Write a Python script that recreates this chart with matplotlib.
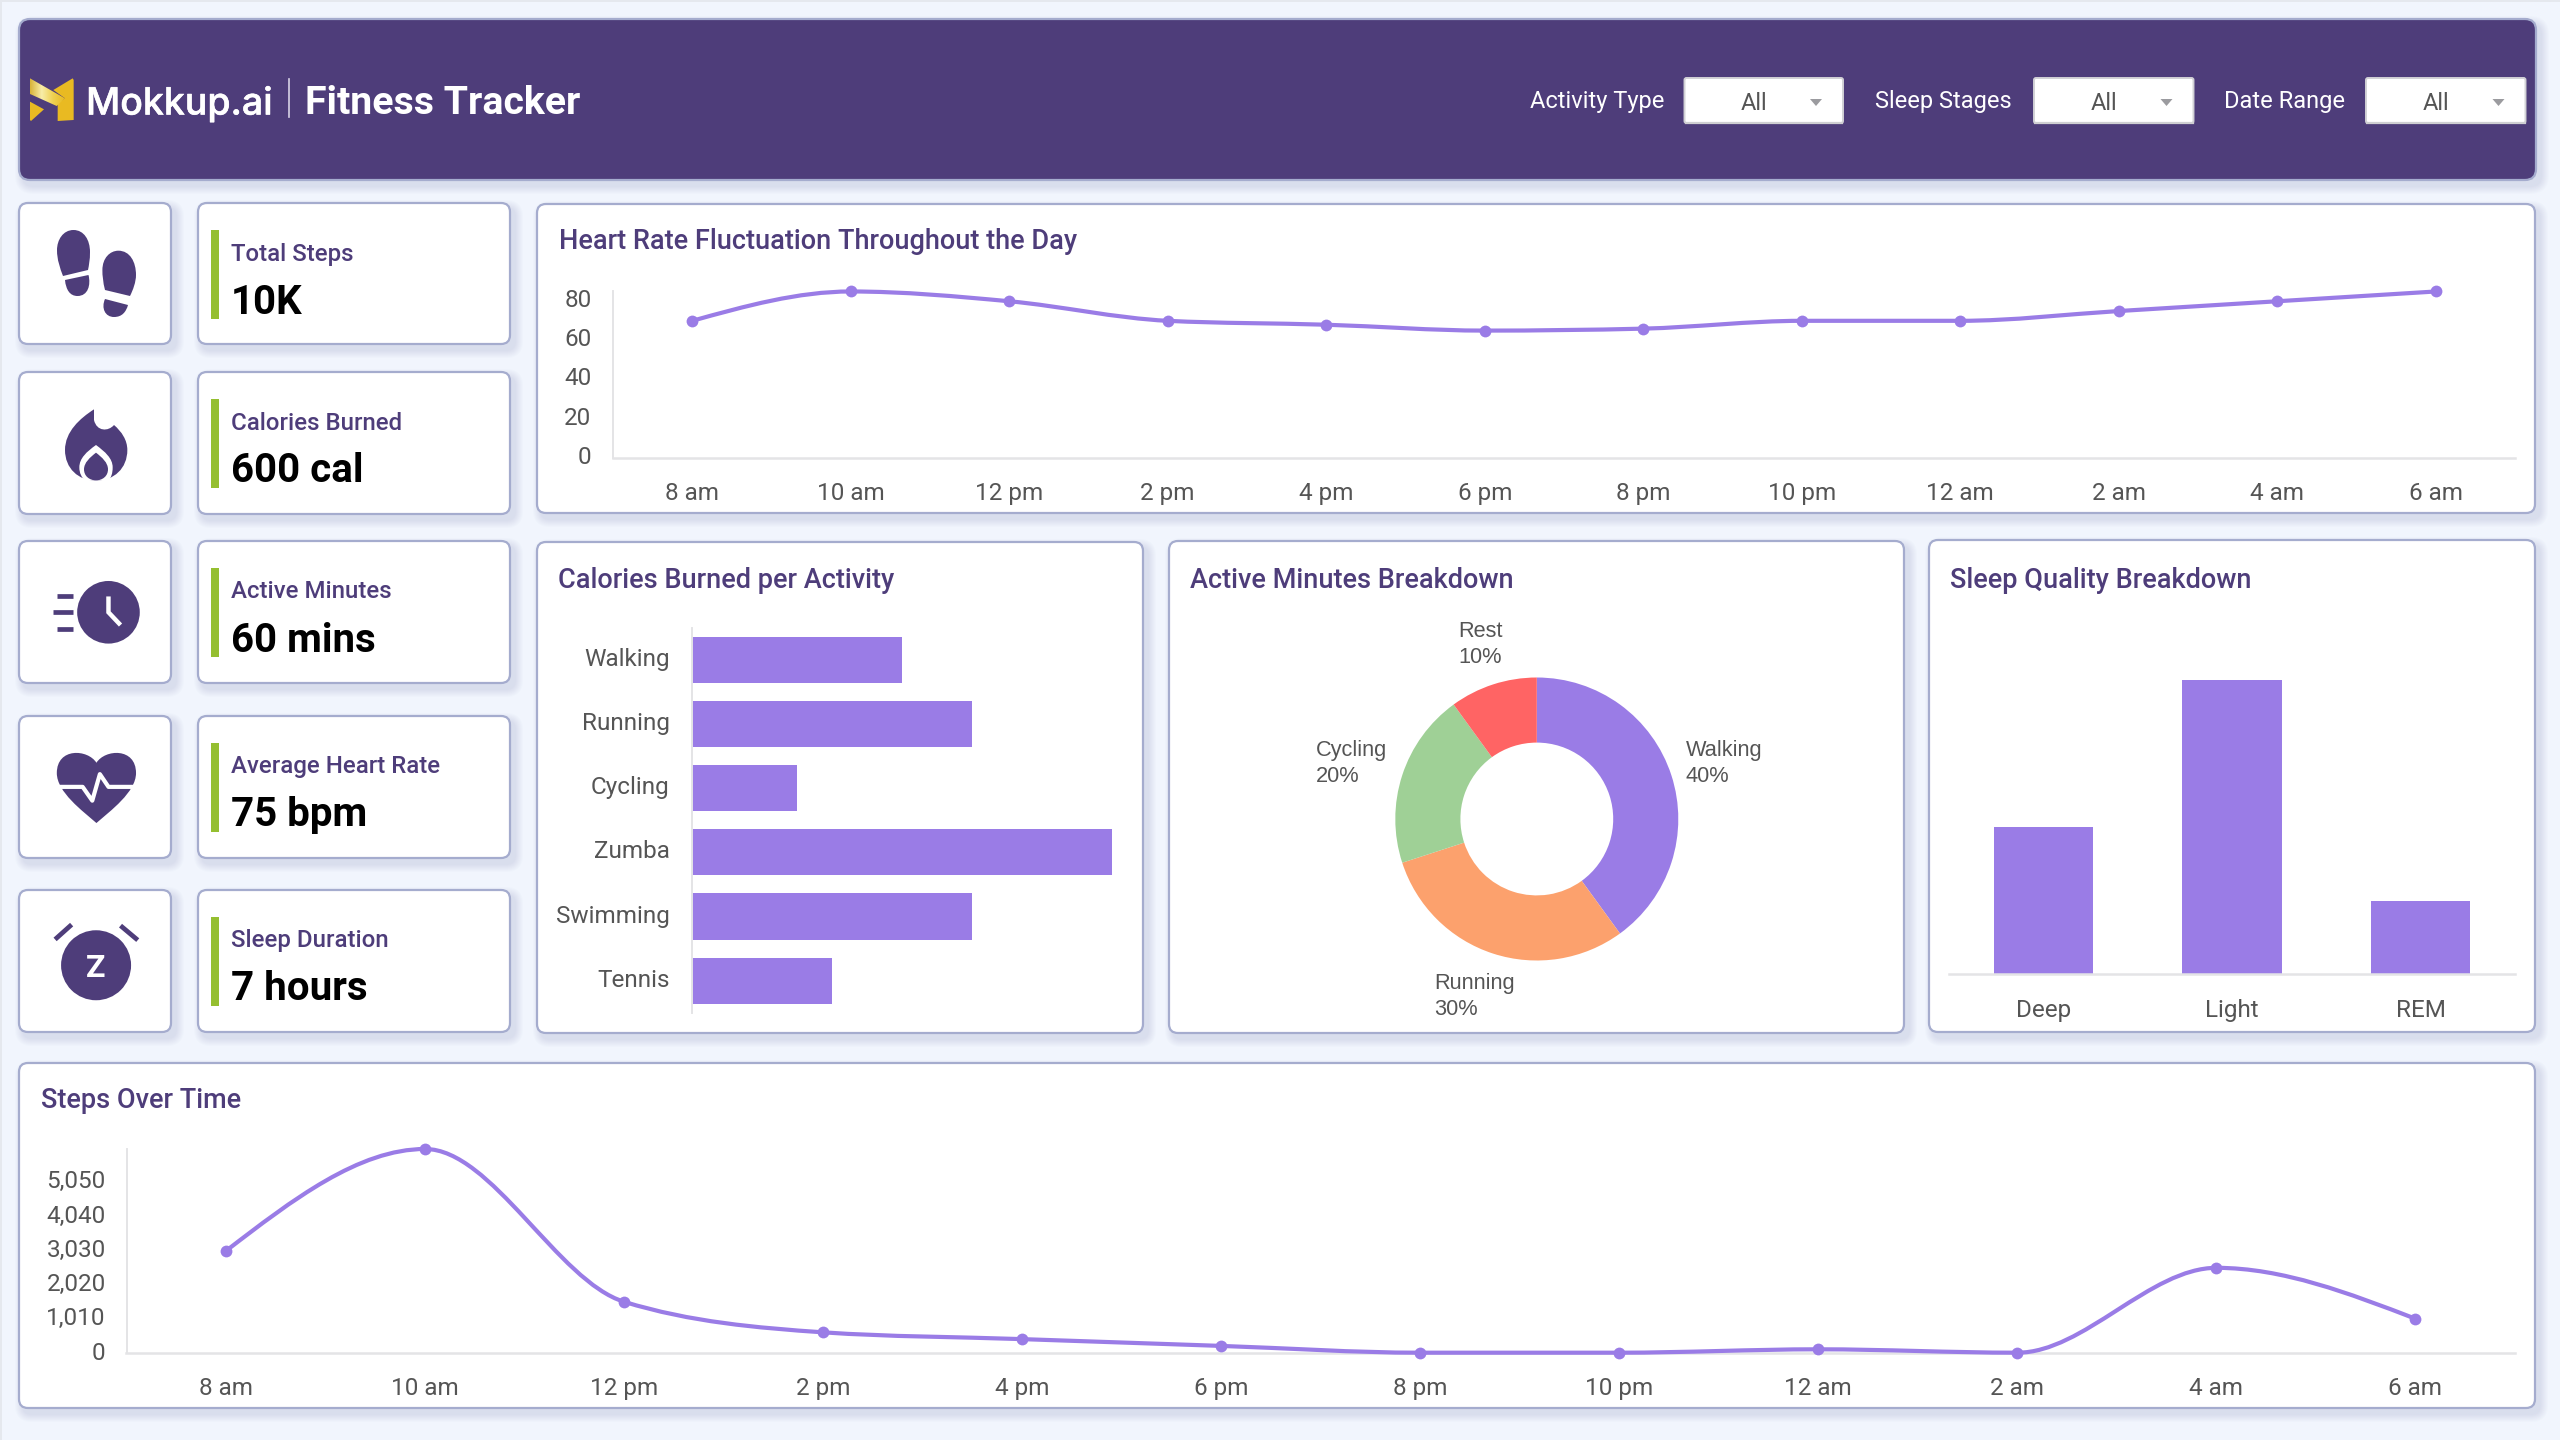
import numpy as np
import matplotlib
matplotlib.use("Agg")
import matplotlib.pyplot as plt
import matplotlib.patheffects as pe
from matplotlib.patches import FancyBboxPatch, Rectangle, Circle, PathPatch, Polygon
from matplotlib.path import Path
from matplotlib.colors import LinearSegmentedColormap
from matplotlib.transforms import ScaledTranslation

plt.rcParams['font.family'] = ['Roboto', 'DejaVu Sans']

# data
hours = ['8 am', '10 am', '12 pm', '2 pm', '4 pm', '6 pm', '8 pm', '10 pm', '12 am', '2 am', '4 am', '6 am']
heart_rate = [70, 85, 80, 70, 68, 65, 66, 70, 70, 75, 80, 85]
heart_ticks = [0, 20, 40, 60, 80]
steps = [3000, 6000, 1500, 600, 400, 200, 0, 0, 100, 0, 2500, 1000]
steps_ticks = [0, 1010, 2020, 3030, 4040, 5050]
steps_tick_labels = ['0', '1,010', '2,020', '3,030', '4,040', '5,050']
activities = ['Walking', 'Running', 'Cycling', 'Zumba', 'Swimming', 'Tennis']
calories = [300, 400, 150, 600, 400, 200]
minute_labels = ['Walking', 'Running', 'Cycling', 'Rest']
minute_share = [40, 30, 20, 10]
sleep_stages = ['Deep', 'Light', 'REM']
sleep_hours = [2, 4, 1]
kpi_labels = ['Total Steps', 'Calories Burned', 'Active Minutes', 'Average Heart Rate', 'Sleep Duration']
kpi_values = ['10K', '600 cal', '60 mins', '75 bpm', '7 hours']
filter_labels = ['Activity Type', 'Sleep Stages', 'Date Range']

W, H = 2560, 1440
PURPLE = '#4E3D7A'
BAR = '#9A7CE6'
GREY = '#555555'
AXIS = '#E4E4E6'
BORDER = '#A5ACCE'
BG = '#F1F5FD'
GREEN = '#95BF30'
TITLE = 19.5
pie_colors = ['#9A7CE6', '#FCA16D', '#9FD096', '#FF6464']

fig = plt.figure(figsize=(25.6, 14.4), dpi=100, facecolor=BG)
bg = fig.add_axes([0, 0, 1, 1])
bg.set_xlim(0, W)
bg.set_ylim(H, 0)
bg.axis('off')

# thin grey edge of the screenshot
bg.add_patch(Rectangle((0, 0), W, 2, color='#E5E8EE', lw=0))
bg.add_patch(Rectangle((0, 0), 2, H, color='#E5E8EE', lw=0))


def rbox(x0, y0, x1, y1, fc='white', ec=BORDER, lw=1.6, r=9, shadow=True):
    if shadow:
        for i in range(8, 0, -1):
            bg.add_patch(FancyBboxPatch((x0 + 4, y0 + 5), x1 - x0 + 1, y1 - y0 + 1,
                                        boxstyle='round,pad=%d,rounding_size=%d' % (i, r + i),
                                        fc='#6E7AA8', ec='none', alpha=0.018))
    bg.add_patch(FancyBboxPatch((x0, y0), x1 - x0, y1 - y0,
                                boxstyle='round,pad=0,rounding_size=%d' % r,
                                fc=fc, ec=ec, lw=lw))


def txt(x, y, s, size=17.5, color=GREY, weight='normal', ha='left', family=None):
    return bg.text(x, y, s, fontsize=size, color=color, fontweight=weight, ha=ha,
                   va='center_baseline', family=family or ['Roboto', 'DejaVu Sans'])


def make_ax(x0, y0, x1, y1):
    ax = fig.add_axes([x0 / W, 1 - y1 / H, (x1 - x0) / W, (y1 - y0) / H])
    ax.patch.set_alpha(0)
    for s in ['top', 'right', 'left', 'bottom']:
        ax.spines[s].set_visible(False)
    ax.tick_params(length=0, labelsize=17.5, labelcolor=GREY)
    return ax


def nudge_labels(labels, dy_px):
    # the dashboard's tick labels sit a little above the tick position
    off = ScaledTranslation(0, dy_px / 100, fig.dpi_scale_trans)
    for lab in labels:
        lab.set_transform(lab.get_transform() + off)


def smooth_path(x, y):
    # monotone cubic through the points, same idea as the dashboard's smooth line
    x = np.asarray(x, float)
    y = np.asarray(y, float)
    h = np.diff(x)
    s = np.diff(y) / h
    t = np.zeros(len(x))
    for i in range(1, len(x) - 1):
        p = (s[i - 1] * h[i] + s[i] * h[i - 1]) / (h[i - 1] + h[i])
        t[i] = (np.sign(s[i - 1]) + np.sign(s[i])) * min(abs(s[i - 1]), abs(s[i]), 0.5 * abs(p))
    t[0] = (3 * s[0] - t[1]) / 2
    t[-1] = (3 * s[-1] - t[-2]) / 2
    verts = [(x[0], y[0])]
    codes = [Path.MOVETO]
    for i in range(len(h)):
        verts += [(x[i] + h[i] / 3, y[i] + t[i] * h[i] / 3),
                  (x[i + 1] - h[i] / 3, y[i + 1] - t[i + 1] * h[i] / 3),
                  (x[i + 1], y[i + 1])]
        codes += [Path.CURVE4] * 3
    return Path(verts, codes)


def line_chart(ax, values, ymax, ticks, tick_labels, ypad, ynudge):
    xs = np.arange(len(values))
    ax.add_patch(PathPatch(smooth_path(xs, values), fc='none', ec=BAR, lw=3, clip_on=False, zorder=3))
    ax.plot(xs, values, 'o', color=BAR, ms=8.5, mew=0, clip_on=False, zorder=4)
    ax.set_xlim(-0.5, len(values) - 0.5)
    ax.set_ylim(0, ymax)
    ax.set_xticks(xs)
    ax.set_xticklabels(hours)
    ax.set_yticks(ticks)
    ax.set_yticklabels(tick_labels)
    ax.spines['left'].set_visible(True)
    ax.spines['bottom'].set_visible(True)
    ax.spines['left'].set_color(AXIS)
    ax.spines['bottom'].set_color(AXIS)
    ax.spines['left'].set_linewidth(1.4)
    ax.spines['bottom'].set_linewidth(1.8)
    ax.tick_params(axis='x', pad=17.5)
    ax.tick_params(axis='y', pad=ypad)
    nudge_labels(ax.get_yticklabels(), ynudge)


def draw_path(points, color=PURPLE):
    # points: first is the start, then tuples of 1 (line) or 3 (curve) points
    verts = [points[0]]
    codes = [Path.MOVETO]
    for seg in points[1:]:
        if len(seg) == 3:
            verts += list(seg)
            codes += [Path.CURVE4] * 3
        else:
            verts.append(seg[0])
            codes.append(Path.LINETO)
    verts.append(points[0])
    codes.append(Path.CLOSEPOLY)
    bg.add_patch(PathPatch(Path(verts, codes), fc=color, ec='none'))


# header
rbox(19, 19, 2536, 180, fc=PURPLE, r=11)
lz = lambda x, y: (20 + x / 3, 70 + y / 3)
gold = '#E9BA22'
bg.add_patch(Polygon([lz(158, 25), lz(161, 30), lz(161, 150), lz(113, 153), lz(113, 100), lz(135, 85), lz(100, 60)], fc=gold, ec='none'))
bg.add_patch(Polygon([lz(30, 95), lz(72, 118), lz(33, 153), lz(30, 150)], fc=gold, ec='none'))
band = Polygon([lz(30, 25), lz(135, 85), lz(110, 108), lz(30, 72)], fc='none', ec='none')
bg.add_patch(band)
cmap = LinearSegmentedColormap.from_list('g', ['#D9B43A', '#F8EDA8', '#EFD050', '#E9BA22'])
im = bg.imshow(np.linspace(0, 1, 64).reshape(1, -1), extent=(30, 65, 115, 76), cmap=cmap, aspect='auto', zorder=2)
im.set_clip_path(band)
bg.set_xlim(0, W)
bg.set_ylim(H, 0)
logo_txt = txt(86, 100, 'Mokkup.ai', size=27, color='white', weight='medium', family=['Inter', 'Roboto'])
logo_txt.set_path_effects([pe.withStroke(linewidth=0.4, foreground='white')])
bg.plot([289, 289], [79, 117], color='#D8D3E6', lw=1.2)
txt(305, 100, 'Fitness Tracker', size=28.3, color='white', weight='bold')

filter_x = [(1530, 1684.5, 1843), (1875, 2034, 2193.5), (2224.5, 2366, 2525.5)]
for name, (lx, b0, b1) in zip(filter_labels, filter_x):
    txt(lx, 99, name, size=17, color='white')
    rbox(b0, 78, b1, 123, fc='white', ec='#D2D2D6', lw=1.4, r=2, shadow=False)
    bg.plot([b0 + 1, b1 - 1], [122.5, 122.5], color='#CFCFD2', lw=1.6)
    txt((b0 + b1) / 2 - 10, 100.5, 'All', size=17, color=GREY, ha='center')
    ax_ = b1 - 27
    bg.add_patch(Polygon([(ax_ - 6, 99), (ax_ + 6, 99), (ax_, 106)], fc='#9B9B9F', ec='none'))

# kpi cards
rows = [(203, 344), (372, 514), (541, 683), (716, 858), (890, 1032)]
for (t, b), lab, val in zip(rows, kpi_labels, kpi_values):
    rbox(19, t, 171, b)
    rbox(198, t, 510, b)
    bg.add_patch(Rectangle((211, t + 27), 8, 89, fc=GREEN, ec='none'))
    txt(231, t + 48.5, lab, size=17.3, color=PURPLE, weight='medium')
    txt(231, t + 95.5, val, size=29, color='black', weight='bold')

# icon: shoes
draw_path([(73.5, 230), ((84, 230), (90, 240), (90, 252)), ((90, 260), (89, 265), (88, 270)), ((63, 276),),
           ((60, 268), (57, 260), (57, 250)), ((57, 240), (63, 230), (73.5, 230))])
draw_path([(65, 280), ((88.5, 275),), ((91, 285), (88, 296), (77.5, 296)), ((70, 296), (66, 290), (65, 280))])
draw_path([(118.4, 250.7), ((130, 250.7), (136, 262), (136, 275)), ((136, 282), (133, 290), (130, 296)), ((105, 290),),
           ((103, 282), (102.4, 276), (102.4, 270)), ((102.4, 258), (110, 250.7), (118.4, 250.7))])
draw_path([(105, 299), ((128, 305),), ((126, 312), (122, 317), (114, 317)), ((105, 317), (101, 308), (105, 299))])

# icon: flame
fz = lambda x, y: (40 + x / 3, 390 + y / 3)
draw_path([fz(162, 58), (fz(120, 85), fz(75, 125), fz(75, 180)), (fz(75, 235), fz(115, 272), fz(168, 272)),
           (fz(222, 272), fz(262, 235), fz(262, 180)), (fz(262, 150), fz(245, 125), fz(222, 105)),
           (fz(205, 125), fz(170, 125), fz(162, 90))])
draw_path([fz(168, 165), (fz(140, 185), fz(118, 205), fz(118, 232)), (fz(118, 250), fz(125, 262), fz(135, 272)),
           (fz(150, 272), fz(190, 272), fz(205, 272)), (fz(214, 262), fz(218, 250), fz(218, 232)),
           (fz(218, 205), fz(195, 185), fz(168, 165))], color='white')
draw_path([fz(168, 188), (fz(150, 202), fz(132, 218), fz(132, 238)), (fz(132, 258), fz(148, 271), fz(168, 271)),
           (fz(188, 271), fz(204, 258), fz(204, 238)), (fz(204, 218), fz(186, 202), fz(168, 188))])

# icons in the lower three cards
z2 = lambda x, y: (x / 2.904, 520 + y / 2.904)
bg.add_patch(Circle(z2(315, 268), 31.3, fc=PURPLE, ec='none'))
bg.plot(*zip(z2(315, 222), z2(315, 268), z2(350, 305)), color='white', lw=3.2, solid_joinstyle='miter', solid_capstyle='butt')
for yy, xs_ in [(220, 165), (268, 153), (316, 165)]:
    bg.plot(*zip(z2(xs_, yy), z2(212, yy)), color=PURPLE, lw=3.4, solid_capstyle='butt')

draw_path([z2(280, 705), (z2(305, 665), z2(395, 660), z2(395, 735)), (z2(395, 790), z2(320, 845), z2(280, 880)),
           (z2(240, 845), z2(165, 790), z2(165, 735)), (z2(165, 660), z2(255, 665), z2(280, 705))])
bg.plot(*zip(z2(165, 775), z2(240, 775), z2(268, 815), z2(290, 738), z2(315, 775), z2(395, 775)),
        color='white', lw=3, solid_joinstyle='round')

bg.add_patch(Circle(z2(279, 1293), 35, fc=PURPLE, ec='none'))
bg.plot(*zip(z2(160, 1218), z2(208, 1175)), color=PURPLE, lw=3.4, solid_capstyle='butt')
bg.plot(*zip(z2(350, 1178), z2(400, 1220)), color=PURPLE, lw=3.4, solid_capstyle='butt')
bg.text(*z2(279, 1293), 'Z', color='white', fontsize=23, fontweight='bold', ha='center', va='center_baseline')

# panels
rbox(537, 204, 2535, 513)
txt(559, 238.5, 'Heart Rate Fluctuation Throughout the Day', size=TITLE, color=PURPLE, weight='medium')
rbox(537, 542, 1143, 1033)
txt(558.5, 578, 'Calories Burned per Activity', size=TITLE, color=PURPLE, weight='medium')
rbox(1169, 541, 1904, 1033)
txt(1190, 578, 'Active Minutes Breakdown', size=TITLE, color=PURPLE, weight='medium')
rbox(1929, 540, 2535, 1032)
txt(1950.5, 577, 'Sleep Quality Breakdown', size=TITLE, color=PURPLE, weight='medium')
rbox(19, 1063, 2535, 1408)
txt(41, 1098, 'Steps Over Time', size=TITLE, color=PURPLE, weight='medium')

# heart rate line
ax1 = make_ax(613, 290.7, 2515, 457.7)
line_chart(ax1, heart_rate, 85.4, heart_ticks, [str(v) for v in heart_ticks], 15.5, 3)

# steps line
ax2 = make_ax(126.5, 1149, 2515, 1352.7)
line_chart(ax2, steps, 6000, steps_ticks, steps_tick_labels, 15, 2)

# calories bars
ax3 = make_ax(692, 628, 1112, 1012.7)
ypos = np.arange(len(activities))
ax3.barh(ypos, calories, height=0.72, color=BAR)
ax3.set_xlim(0, 600)
ax3.set_ylim(len(activities) - 0.5, -0.5)
ax3.set_yticks(ypos)
ax3.set_yticklabels(activities)
ax3.set_xticks([])
ax3.spines['left'].set_visible(True)
ax3.spines['left'].set_color(AXIS)
ax3.spines['left'].set_linewidth(1.4)
ax3.tick_params(axis='y', pad=16)
nudge_labels(ax3.get_yticklabels(), 3)

# donut
ax4 = make_ax(1536.8 - 141.5, 819 - 141.5, 1536.8 + 141.5, 819 + 141.5)
ax4.pie(minute_share, startangle=90, counterclock=False, colors=pie_colors, radius=1,
        wedgeprops=dict(width=0.46, linewidth=0))
ax4.set_xlim(-1, 1)
ax4.set_ylim(-1, 1)
label_pos = [(1686, 763.5), (1434, 996.5), (1316, 763.5), (1458, 644.5)]
for (lx, ly), name, share in zip(label_pos, minute_labels, minute_share):
    bg.text(lx, ly, '%s\n%d%%' % (name, share), fontsize=15.7, color=GREY, ha='left', va='center',
            family='Liberation Sans', linespacing=1.36)

# sleep bars
ax5 = make_ax(1949, 680, 2515, 974)
xpos = np.arange(len(sleep_stages))
ax5.bar(xpos, sleep_hours, width=0.526, color=BAR)
ax5.set_xlim(-0.5, 2.5)
ax5.set_ylim(0, 4)
ax5.set_xticks(xpos)
ax5.set_xticklabels(sleep_stages)
ax5.set_yticks([])
ax5.spines['bottom'].set_visible(True)
ax5.spines['bottom'].set_color(AXIS)
ax5.spines['bottom'].set_linewidth(1.8)
ax5.tick_params(axis='x', pad=18)

fig.savefig('out.png', dpi=100, facecolor=BG)
